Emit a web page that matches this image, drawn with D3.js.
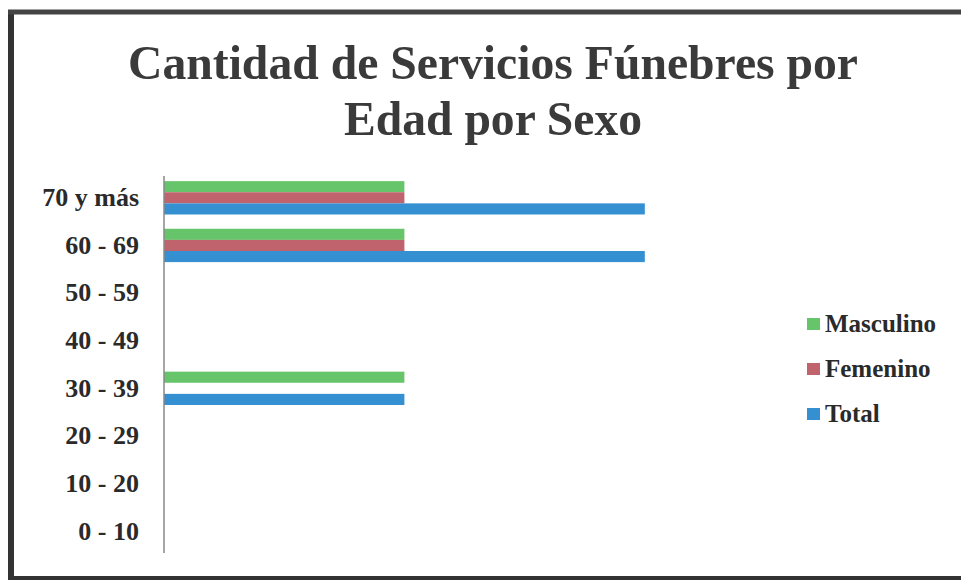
<!DOCTYPE html>
<html>
<head>
<meta charset="utf-8">
<script src="https://cdn.jsdelivr.net/npm/d3@7"></script>
<style>
    body { margin: 0; background: #fff; }
    text { font-family: "Liberation Serif", "Times New Roman", serif; font-weight: bold; fill: #222; }
</style>
</head>
<body>
<div id="chart"></div>
<script>
// age groups, top to bottom as drawn
const ageGroups = ["70 y más", "60 - 69", "50 - 59", "40 - 49", "30 - 39", "20 - 29", "10 - 20", "0 - 10"];
const seriesNames = ["Masculino", "Femenino", "Total"];
const masculino = [1, 1, 0, 0, 1, 0, 0, 0];
const femenino = [1, 1, 0, 0, 0, 0, 0, 0];
const total = [2, 2, 0, 0, 1, 0, 0, 0];
const seriesColors = ["#66c46a", "#c0636c", "#3590d2"];

const width = 961, height = 583;
const serif = "'Liberation Serif', 'Times New Roman', serif";

let svg = d3.select("#chart").append("svg")
    .attr("width", width)
    .attr("height", height);

// scanned page frame
svg.append("rect").attr("x", 0).attr("y", 0).attr("width", width).attr("height", height).attr("fill", "#fff");
svg.append("line").attr("x1", 11).attr("x2", 11).attr("y1", 10).attr("y2", 580)
    .attr("stroke", "#333").attr("stroke-width", 6);
svg.append("line").attr("x1", 8).attr("x2", width).attr("y1", 12).attr("y2", 12)
    .attr("stroke", "#444").attr("stroke-width", 5);
svg.append("line").attr("x1", 8).attr("x2", width).attr("y1", 578).attr("y2", 578)
    .attr("stroke", "#333").attr("stroke-width", 4);

// title (narrow bold serif, like the scan)
let titleLines = [
    { text: "Cantidad de Servicios Fúnebres por", y: 79, len: 730 },
    { text: "Edad por Sexo", y: 135, len: 298 }
];
svg.selectAll("text.title")
    .data(titleLines)
    .enter()
    .append("text")
    .attr("class", "title")
    .attr("text-anchor", "middle")
    .attr("x", 493)
    .attr("y", d => d.y)
    .attr("textLength", d => d.len)
    .attr("lengthAdjust", "spacingAndGlyphs")
    .style("font-family", serif)
    .style("font-weight", "bold")
    .style("font-size", "49px")
    .style("fill", "#3a3a3a")
    .text(d => d.text);

let x = d3.scaleLinear().domain([0, 2.5]).range([164, 765]);
let y = d3.scaleBand().domain(ageGroups).range([174, 555]).paddingInner(0.3).paddingOuter(0.15);
let ySub = d3.scaleBand().domain(seriesNames).range([0, y.bandwidth()]);

let rows = ageGroups.map((g, i) => ({
    group: g,
    values: [masculino[i], femenino[i], total[i]]
}));

let groups = svg.selectAll("g.row")
    .data(rows)
    .enter()
    .append("g")
    .attr("class", "row")
    .attr("transform", d => `translate(0, ${y(d.group)})`);

groups.selectAll("rect")
    .data(d => d.values.map((v, i) => ({ name: seriesNames[i], value: v, color: seriesColors[i] })))
    .enter()
    .append("rect")
    .attr("x", x(0))
    .attr("y", d => ySub(d.name))
    .attr("height", ySub.bandwidth())
    .attr("width", d => x(d.value) - x(0))
    .attr("fill", d => d.color);

// category axis
let yAxis = svg.append("g")
    .attr("transform", `translate(${x(0)}, 0)`)
    .call(d3.axisLeft(y).tickSize(0).tickPadding(25));
yAxis.select(".domain").attr("stroke", "#888").attr("stroke-width", 1.5).attr("d", "M0,176V553");
yAxis.selectAll("text")
    .style("font-family", serif)
    .style("font-weight", "bold")
    .style("font-size", "26px")
    .style("fill", "#2a2a2a");

// legend
let legend = svg.selectAll("g.legend")
    .data(seriesNames)
    .enter()
    .append("g")
    .attr("class", "legend")
    .attr("transform", (d, i) => `translate(807, ${324 + i * 45})`);

legend.append("rect")
    .attr("x", 0).attr("y", -6)
    .attr("width", 13).attr("height", 12)
    .attr("fill", (d, i) => seriesColors[i]);

legend.append("text")
    .attr("x", 18)
    .attr("y", 8)
    .style("font-family", serif)
    .style("font-weight", "bold")
    .style("font-size", "25px")
    .style("fill", "#2a2a2a")
    .text(d => d);
</script>
</body>
</html>
